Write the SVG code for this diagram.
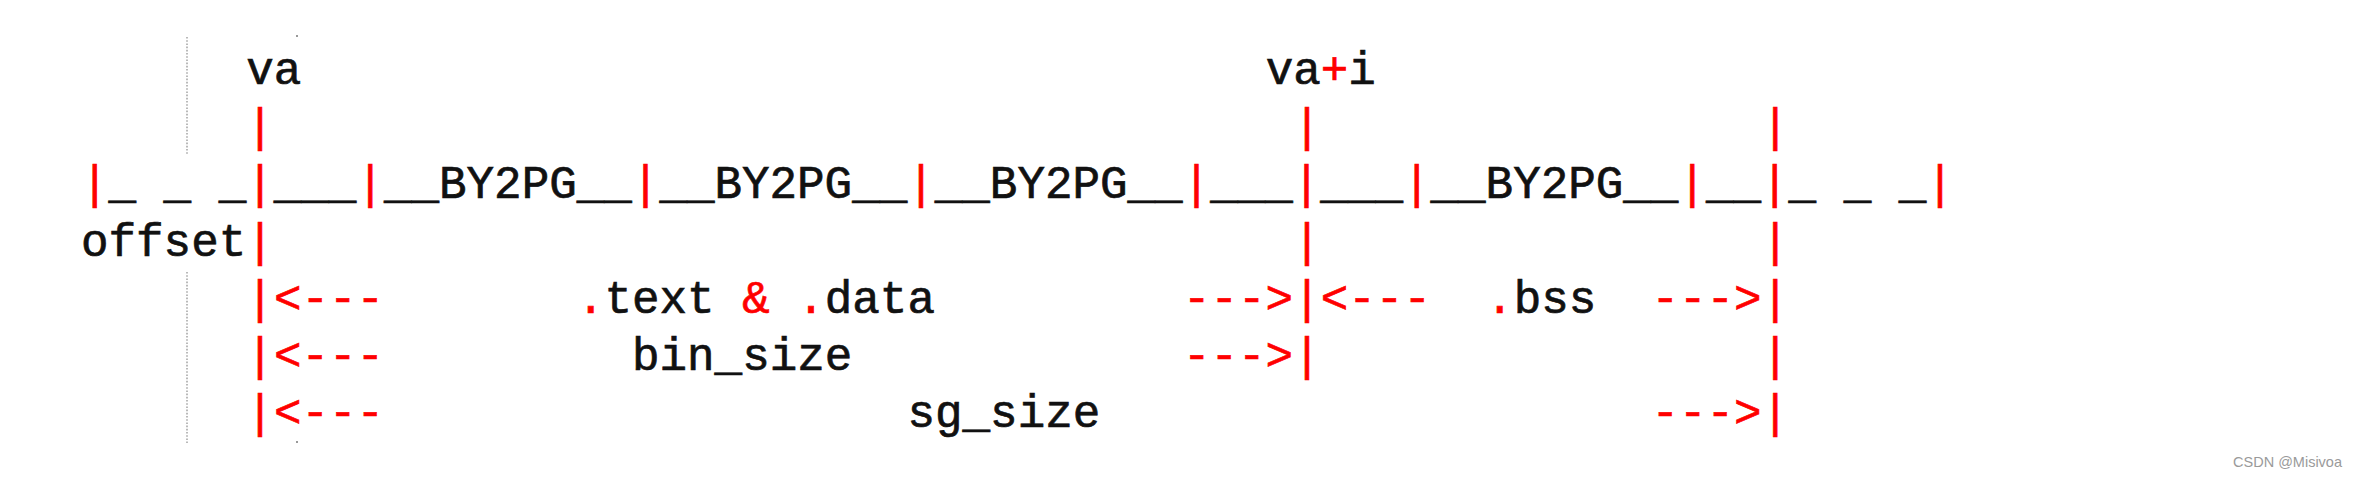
<svg xmlns="http://www.w3.org/2000/svg" width="2355" height="477" viewBox="0 0 2355 477">
<style>
text { font-family: "Liberation Mono", "DejaVu Sans Mono", monospace; font-size: 45.9px; fill: #111; stroke: #111; stroke-width: 0.7px; white-space: pre; }
.r { fill: #ff0000; stroke: #ff0000; }
.wm { font-family: "Liberation Sans", Arial, sans-serif; font-size: 14.5px; fill: #9a9a9a; stroke: none; }
.dot { stroke: #a8a8a8; stroke-width: 1.6; stroke-dasharray: 1.6 1.6; fill: none; }
</style>
<rect width="2355" height="477" fill="#fff"/>
<g id="guides">
<line class="dot" x1="187" y1="37" x2="187" y2="155"/>
<line class="dot" x1="187" y1="272" x2="187" y2="443"/>
<rect x="296" y="35" width="2" height="2" fill="#999"/>
<rect x="296" y="441" width="2" height="2" fill="#999"/>
</g>
<g id="row-labels">
<text x="246.3" y="84">va</text>
<text x="1265.7" y="84">va<tspan class="r">+</tspan>i</text>
</g>
<g id="row-markers">
<text class="r" x="246.3" y="141.2">|</text>
<text class="r" x="1293.2" y="141.2">|</text>
<text class="r" x="1761.6" y="141.2">|</text>
</g>
<g id="memory-layout">
<text x="81" y="198.4" xml:space="preserve"><tspan class="r">|</tspan>_ _ _<tspan class="r">|</tspan>___<tspan class="r">|</tspan>__BY2PG__<tspan class="r">|</tspan>__BY2PG__<tspan class="r">|</tspan>__BY2PG__<tspan class="r">|</tspan>___<tspan class="r">|</tspan>___<tspan class="r">|</tspan>__BY2PG__<tspan class="r">|</tspan>__<tspan class="r">|</tspan>_ _ _<tspan class="r">|</tspan></text>
</g>
<g id="offset-row">
<text x="81" y="255.6">offset</text>
<text class="r" x="246.3" y="255.6">|</text>
<text class="r" x="1293.2" y="255.6">|</text>
<text class="r" x="1761.6" y="255.6">|</text>
</g>
<g id="sections-row">
<text class="r" x="246.3" y="312.8">|</text>
<text class="r" x="273.9" y="312.8">&lt;---</text>
<text x="576.9" y="312.8"><tspan class="r">.</tspan>text <tspan class="r">&amp;</tspan> <tspan class="r">.</tspan>data</text>
<text class="r" x="1183" y="312.8">---&gt;</text>
<text class="r" x="1293.2" y="312.8">|</text>
<text class="r" x="1320.8" y="312.8">&lt;---</text>
<text x="1486.1" y="312.8"><tspan class="r">.</tspan>bss</text>
<text class="r" x="1651.4" y="312.8">---&gt;</text>
<text class="r" x="1761.6" y="312.8">|</text>
</g>
<g id="bin-size-row">
<text class="r" x="246.3" y="370">|</text>
<text class="r" x="273.9" y="370">&lt;---</text>
<text x="632" y="370">bin_size</text>
<text class="r" x="1183" y="370">---&gt;</text>
<text class="r" x="1293.2" y="370">|</text>
<text class="r" x="1761.6" y="370">|</text>
</g>
<g id="sg-size-row">
<text class="r" x="246.3" y="427.2">|</text>
<text class="r" x="273.9" y="427.2">&lt;---</text>
<text x="907.5" y="427.2">sg_size</text>
<text class="r" x="1651.4" y="427.2">---&gt;</text>
<text class="r" x="1761.6" y="427.2">|</text>
</g>
<text class="wm" x="2342" y="467" text-anchor="end">CSDN @Misivoa</text>
</svg>
